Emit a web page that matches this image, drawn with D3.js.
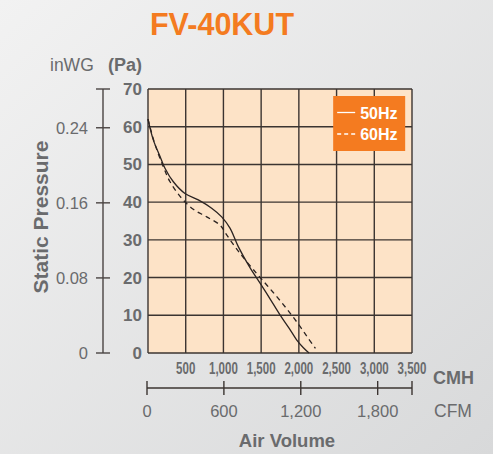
<!DOCTYPE html>
<html>
<head>
<meta charset="utf-8">
<script src="https://cdn.jsdelivr.net/npm/d3@7"></script>
<style>
  body { margin: 0; }
  svg { display: block; font-family: "Liberation Sans", Arial, sans-serif; }
</style>
</head>
<body>
<svg id="chart"></svg>
<script>
const svgWidth = 493;
const svgHeight = 454;
const margin = { top: 89, right: 81, bottom: 101, left: 148 };
const width = svgWidth - margin.left - margin.right;
const height = svgHeight - margin.top - margin.bottom;

const grey = "#6a6b6d";
const orange = "#f47b20";

// data (CMH, Pa)
const flow50 = [0, 70, 160, 225, 336, 490, 667, 844, 977, 1087, 1197, 1350, 1490, 1620, 1750, 1870, 1970, 2060, 2135];
const pa50 = [62, 56.5, 52.1, 49, 45.4, 42.3, 40.6, 38.4, 36.1, 33.1, 28.2, 22.7, 18.4, 14.3, 10.1, 6.6, 3.5, 1.4, 0];
const flow60 = [0, 90, 203, 292, 447, 600, 778, 955, 1043, 1197, 1440, 1580, 1710, 1840, 1970, 2100, 2220];
const pa60 = [62, 55.5, 49.4, 45.4, 41, 38.1, 36.1, 33.9, 31.3, 27, 21.1, 17.9, 14.9, 11.7, 8.3, 4.6, 1.2];

const cmhTicks = [500, 1000, 1500, 2000, 2500, 3000, 3500];
const paTicks = [0, 10, 20, 30, 40, 50, 60, 70];
const inwgTicks = [0, 0.08, 0.16, 0.24];
const cfmTicks = [0, 600, 1200, 1800];
const series = ["50Hz", "60Hz"];

const PA_PER_INWG = 248.84;
const CMH_PER_CFM = 1.699;

const svg = d3.select("#chart")
    .attr("width", svgWidth)
    .attr("height", svgHeight);

// background
const defs = svg.append("defs");
const bg = defs.append("linearGradient").attr("id", "bg")
    .attr("x1", 0).attr("y1", 0).attr("x2", 1).attr("y2", 1);
bg.append("stop").attr("offset", "0%").attr("stop-color", "#f2f2f2");
bg.append("stop").attr("offset", "100%").attr("stop-color", "#d8d9da");
svg.append("rect").attr("width", svgWidth).attr("height", svgHeight).attr("fill", "url(#bg)");

const x = d3.scaleLinear().domain([0, 3500]).range([0, width]);
const y = d3.scaleLinear().domain([0, 70]).range([height, 0]);

const chart = svg.append("g")
    .attr("transform", `translate(${margin.left},${margin.top})`);

chart.append("rect")
    .attr("width", width)
    .attr("height", height)
    .attr("fill", "#fde3c7");

// grid
chart.selectAll(".vgrid")
    .data(d3.range(0, 3501, 500))
    .enter().append("line")
    .attr("x1", d => x(d)).attr("x2", d => x(d))
    .attr("y1", 0).attr("y2", height)
    .attr("stroke", "#3b3431").attr("stroke-width", 1.4);

chart.selectAll(".hgrid")
    .data(paTicks)
    .enter().append("line")
    .attr("x1", 0).attr("x2", width)
    .attr("y1", d => y(d)).attr("y2", d => y(d))
    .attr("stroke", "#3b3431").attr("stroke-width", 1.4);

// curves
const line = d3.line()
    .x(d => x(d[0]))
    .y(d => y(d[1]))
    .curve(d3.curveCatmullRom);

chart.append("path")
    .datum(flow50.map((f, i) => [f, pa50[i]]))
    .attr("fill", "none")
    .attr("stroke", "#2b2321")
    .attr("stroke-width", 1.3)
    .attr("d", line);

chart.append("path")
    .datum(flow60.map((f, i) => [f, pa60[i]]))
    .attr("fill", "none")
    .attr("stroke", "#2b2321")
    .attr("stroke-width", 1.3)
    .attr("stroke-dasharray", "5,4")
    .attr("d", line);

// legend
const legend = chart.append("g").attr("transform", `translate(${x(2455)},7)`);
legend.append("rect")
    .attr("width", 72).attr("height", 55)
    .attr("fill", orange);
series.forEach((s, i) => {
    legend.append("line")
        .attr("x1", 4).attr("x2", 22)
        .attr("y1", 16.5 + i * 21.5).attr("y2", 16.5 + i * 21.5)
        .attr("stroke", "#fff").attr("stroke-width", 1.3)
        .attr("stroke-dasharray", i ? "4,3" : null);
    legend.append("text")
        .attr("x", 27).attr("y", 22.5 + i * 21.5)
        .attr("fill", "#fff")
        .style("font-size", "16px").style("font-weight", "bold")
        .text(s);
});

// Pa axis labels
chart.selectAll(".palabel")
    .data(paTicks)
    .enter().append("text")
    .attr("x", -6)
    .attr("y", d => y(d) + 6)
    .attr("text-anchor", "end")
    .attr("fill", grey)
    .style("font-size", "17px").style("font-weight", "bold")
    .text(d => d);

// CMH labels (condensed)
chart.selectAll(".cmhlabel")
    .data(cmhTicks)
    .enter().append("text")
    .attr("transform", d => `translate(${x(d)},${height + 21}) scale(0.72,1)`)
    .attr("text-anchor", "middle")
    .attr("fill", grey)
    .style("font-size", "16px").style("font-weight", "bold")
    .text(d => d3.format(",")(d));

chart.append("text")
    .attr("x", width + 21).attr("y", height + 31)
    .attr("fill", grey)
    .style("font-size", "18px").style("font-weight", "bold")
    .text("CMH");

// inWG axis
const yIn = d3.scaleLinear().domain([0, 70 / PA_PER_INWG]).range([height, 0]);
const inwgAxis = svg.append("g")
    .attr("transform", `translate(103,${margin.top})`);
inwgAxis.append("line")
    .attr("y1", 0).attr("y2", height)
    .attr("stroke", "#4a4442").attr("stroke-width", 1.4);
inwgAxis.selectAll(".t")
    .data(inwgTicks.map(yIn).concat([0]))
    .enter().append("line")
    .attr("x1", -7).attr("x2", 7)
    .attr("y1", d => d).attr("y2", d => d)
    .attr("stroke", "#4a4442").attr("stroke-width", 1.4);
inwgAxis.selectAll(".l")
    .data(inwgTicks)
    .enter().append("text")
    .attr("x", -15)
    .attr("y", d => yIn(d) + 6)
    .attr("text-anchor", "end")
    .attr("fill", grey)
    .style("font-size", "16.5px")
    .text(d => d === 0 ? "0" : d.toFixed(2));

svg.append("text")
    .attr("x", 50).attr("y", 71)
    .attr("fill", grey)
    .style("font-size", "17.5px")
    .text("inWG");
svg.append("text")
    .attr("x", 108).attr("y", 71)
    .attr("fill", grey)
    .style("font-size", "18px").style("font-weight", "bold")
    .text("(Pa)");

svg.append("text")
    .attr("transform", `translate(48,${margin.top + height / 2 - 4}) rotate(-90)`)
    .attr("text-anchor", "middle")
    .attr("fill", grey)
    .style("font-size", "21px").style("font-weight", "bold")
    .text("Static Pressure");

// CFM axis
const xCfm = d3.scaleLinear().domain([0, 3500 / CMH_PER_CFM]).range([0, width]);
const cfmAxis = svg.append("g")
    .attr("transform", `translate(${margin.left - 1},388)`);
cfmAxis.append("line")
    .attr("x1", 0).attr("x2", width + 1)
    .attr("stroke", "#3b3431").attr("stroke-width", 1.4);
cfmAxis.selectAll(".t")
    .data(cfmTicks.map(xCfm).concat([width + 1]))
    .enter().append("line")
    .attr("x1", d => d).attr("x2", d => d)
    .attr("y1", -7).attr("y2", 7)
    .attr("stroke", "#3b3431").attr("stroke-width", 1.4);
cfmAxis.selectAll(".l")
    .data(cfmTicks)
    .enter().append("text")
    .attr("x", d => xCfm(d))
    .attr("y", 29)
    .attr("text-anchor", "middle")
    .attr("fill", grey)
    .style("font-size", "16.5px")
    .text(d => d3.format(",")(d));

svg.append("text")
    .attr("x", 434).attr("y", 417)
    .attr("fill", grey)
    .style("font-size", "17.5px")
    .text("CFM");

svg.append("text")
    .attr("x", 287).attr("y", 447)
    .attr("text-anchor", "middle")
    .attr("fill", grey)
    .style("font-size", "18.5px").style("font-weight", "bold")
    .text("Air Volume");

svg.append("text")
    .attr("x", 222).attr("y", 35)
    .attr("text-anchor", "middle")
    .attr("fill", orange)
    .style("font-size", "30.5px").style("font-weight", "bold")
    .text("FV-40KUT");
</script>
</body>
</html>
